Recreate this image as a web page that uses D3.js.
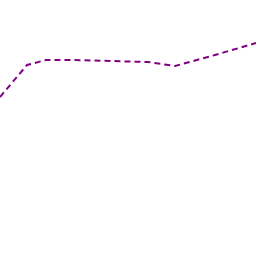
<!DOCTYPE html>
<html>
<head>
<meta charset="utf-8">
<script src="https://cdn.jsdelivr.net/npm/d3@7"></script>
<style>
  html, body { margin: 0; padding: 0; background: #fff; }
  svg { display: block; }
</style>
</head>
<body>
<div id="chart"></div>
<script>
// Series
const xValues = [0, 27, 46, 75, 110, 148, 175, 215, 256];
const yValues = [97, 65, 60, 60, 61, 62, 66, 55, 43];

const width = 256, height = 256;

const x = d3.scaleLinear().domain([0, 256]).range([0, width]);
const y = d3.scaleLinear().domain([0, 256]).range([0, height]);

const svg = d3.select('#chart')
    .append('svg')
    .attr('width', width)
    .attr('height', height);

const line = d3.line()
    .x((d, i) => x(xValues[i]))
    .y(d => y(d));

svg.append('path')
    .datum(yValues)
    .attr('fill', 'none')
    .attr('stroke', '#800080')
    .attr('stroke-width', 2)
    .attr('stroke-dasharray', '6,4')
    .attr('d', line);
</script>
</body>
</html>
